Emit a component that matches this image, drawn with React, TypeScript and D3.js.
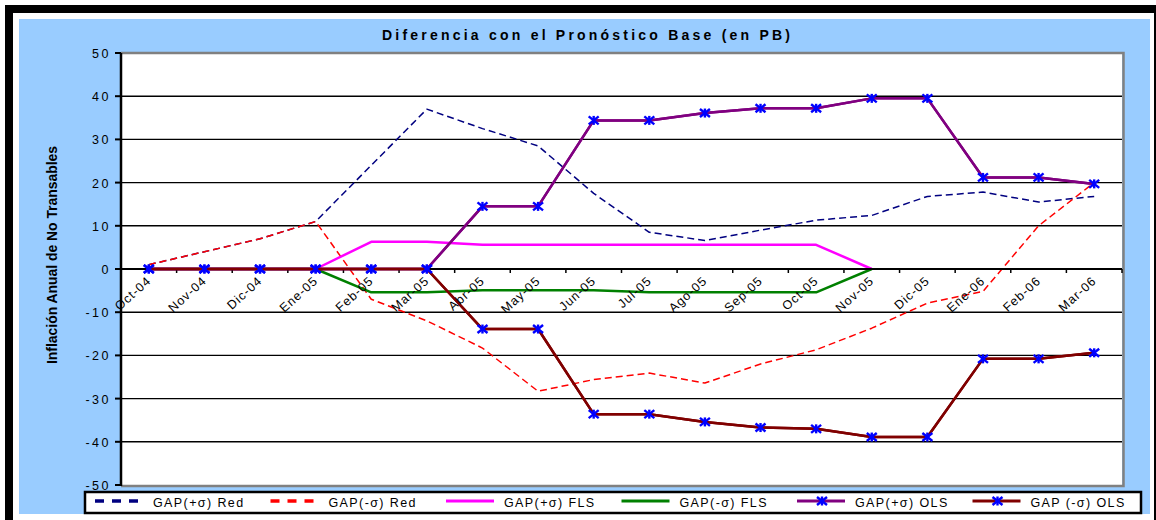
import { useEffect } from "react";
import * as d3 from "d3";

// Categories (months) and series
const months = [
  "Oct-04", "Nov-04", "Dic-04", "Ene-05", "Feb-05", "Mar-05", "Abr-05", "May-05", "Jun-05",
  "Jul-05", "Ago-05", "Sep-05", "Oct-05", "Nov-05", "Dic-05", "Ene-06", "Feb-06", "Mar-06",
];

const gapPlusRed = [1, 4, 7, 11, 24, 37, 32.5, 28.5, 17.5, 8.5, 6.6, 9, 11.3, 12.4, 16.8, 17.8, 15.5, 16.8];
const gapMinusRed = [1, 4, 7, 11, -7, -12, -18.3, -28.3, -25.6, -24.1, -26.4, -22, -18.7, -13.7, -7.9, -5.2, 10, 20];
const gapPlusFLS = [0, 0, 0, 0, 6.3, 6.3, 5.6, 5.6, 5.6, 5.6, 5.6, 5.6, 5.6, 0, null, null, null, null];
const gapMinusFLS = [0, 0, 0, 0, -5.4, -5.4, -4.9, -4.9, -4.9, -5.4, -5.4, -5.4, -5.4, 0, null, null, null, null];
const gapPlusOLS = [0, 0, 0, 0, 0, 0, 14.5, 14.5, 34.4, 34.4, 36.1, 37.2, 37.2, 39.5, 39.5, 21.2, 21.2, 19.7];
const gapMinusOLS = [0, 0, 0, 0, 0, 0, -13.9, -13.9, -33.6, -33.6, -35.4, -36.7, -37, -38.9, -38.9, -20.8, -20.8, -19.4];

const yTicks = [50, 40, 30, 20, 10, 0, -10, -20, -30, -40, -50];

const series = [
  { name: "GAP(+σ) Red", values: gapPlusRed, color: "#000080", width: 1.5, dash: "7,4", marker: false },
  { name: "GAP(-σ) Red", values: gapMinusRed, color: "#FF0000", width: 1.5, dash: "7,4", marker: false },
  { name: "GAP(+σ) FLS", values: gapPlusFLS, color: "#FF00FF", width: 2.5, dash: null, marker: false },
  { name: "GAP(-σ) FLS", values: gapMinusFLS, color: "#008000", width: 2.5, dash: null, marker: false },
  { name: "GAP(+σ) OLS", values: gapPlusOLS, color: "#800080", width: 2.5, dash: null, marker: true },
  { name: "GAP (-σ) OLS", values: gapMinusOLS, color: "#800000", width: 2.5, dash: null, marker: true },
];

const W = 1156;
const H = 520;
const plot = { left: 121, right: 1122, top: 53, bottom: 485 };
const font = "'Liberation Sans', Arial, sans-serif";

// asterisk marker like Excel's "star"
const Star = ({ cx, cy }: { cx: number; cy: number }) => (
  <g stroke="#0000FF" strokeWidth={2.4}>
    <line x1={cx - 5} y1={cy - 4} x2={cx + 5} y2={cy + 4} />
    <line x1={cx - 5} y1={cy + 4} x2={cx + 5} y2={cy - 4} />
    <line x1={cx} y1={cy - 4.5} x2={cx} y2={cy + 4.5} />
  </g>
);

export default function App() {
  useEffect(() => {
    document.body.style.margin = "0";
  }, []);

  const x = d3.scaleBand<string>().domain(months).range([plot.left, plot.right]);
  const y = d3.scaleLinear().domain([-50, 50]).range([plot.bottom, plot.top]);
  const cx = (m: string) => (x(m) ?? 0) + x.bandwidth() / 2;

  const line = d3
    .line<number | null>()
    .defined((d) => d != null)
    .x((_, i) => cx(months[i]))
    .y((d) => y(d as number));

  const y0 = y(0);
  const legendStep = 175.5;

  return (
    <svg width={W} height={H} style={{ display: "block" }} fontFamily={font}>
      {/* frame */}
      <rect x={5} y={5} width={W - 5} height={H - 5} fill="#000" />
      <rect x={13} y={13} width={1141} height={H - 13} fill="#fff" />
      <rect x={19} y={19} width={1131} height={495} fill="#99CCFF" />

      {/* title */}
      <text x={586} y={40} textAnchor="middle" fontSize={14} fontWeight="bold" textLength={408} lengthAdjust="spacing">
        Diferencia con el Pronóstico Base (en PB)
      </text>

      {/* plot area */}
      <rect x={plot.left} y={plot.top} width={plot.right - plot.left} height={plot.bottom - plot.top} fill="#fff" />
      <path
        d={`M${plot.left},${plot.top}H${plot.right + 1.5}V${plot.bottom + 1}H${plot.left}`}
        fill="none"
        stroke="#808080"
        strokeWidth={2.5}
      />

      {/* gridlines */}
      {yTicks
        .filter((t) => t !== 50 && t !== -50 && t !== 0)
        .map((t) => (
          <line key={t} x1={plot.left} x2={plot.right} y1={y(t)} y2={y(t)} stroke="#000" strokeWidth={1.4} />
        ))}

      {/* y axis */}
      <line x1={plot.left} x2={plot.left} y1={plot.top} y2={plot.bottom + 1} stroke="#000" strokeWidth={2.5} />
      {yTicks.map((t) => (
        <g key={t}>
          <line x1={plot.left - 6} x2={plot.left} y1={y(t)} y2={y(t)} stroke="#000" strokeWidth={2} />
          <text x={111} y={y(t) + 5} textAnchor="end" fontSize={12.5} letterSpacing={2.5} fill="#000">
            {t}
          </text>
        </g>
      ))}

      {/* y axis title */}
      <text
        transform={`translate(57,255) rotate(-90)`}
        textAnchor="middle"
        fontFamily="'Liberation Sans Narrow', 'Arial Narrow', sans-serif"
        fontWeight="bold"
        fontSize={15}
        textLength={218}
        lengthAdjust="spacingAndGlyphs"
      >
        Inflación Anual de No Transables
      </text>

      {/* series */}
      {series.map((s) => (
        <path
          key={s.name}
          d={line(s.values) ?? ""}
          fill="none"
          stroke={s.color}
          strokeWidth={s.width}
          strokeDasharray={s.dash ?? undefined}
          strokeLinejoin="round"
        />
      ))}

      {/* x axis on zero */}
      <line x1={plot.left} x2={plot.right} y1={y0} y2={y0} stroke="#000" strokeWidth={2.2} />
      {d3.range(months.length + 1).map((i) => {
        const xx = plot.left + i * x.step();
        return <line key={i} x1={xx} x2={xx} y1={y0} y2={y0 + 4} stroke="#000" strokeWidth={1.5} />;
      })}

      {/* redraw OLS lines over the axis where they sit on zero */}
      {series
        .filter((s) => s.marker)
        .map((s) => (
          <g key={s.name}>
            <path d={line(s.values) ?? ""} fill="none" stroke={s.color} strokeWidth={s.width} strokeLinejoin="round" />
            {s.values.map((v, i) => (v == null ? null : <Star key={i} cx={cx(months[i])} cy={y(v)} />))}
          </g>
        ))}

      {/* x tick labels */}
      {months.map((m) => (
        <text
          key={m}
          transform={`translate(${cx(m) + 3},${y0 + 13}) rotate(-42)`}
          textAnchor="end"
          fontSize={12.5}
          letterSpacing={1}
          fill="#000"
        >
          {m}
        </text>
      ))}

      {/* legend */}
      <rect x={85} y={492} width={1056} height={21} fill="#fff" stroke="#000" strokeWidth={2.5} />
      {series.map((s, i) => {
        const lx = 95 + i * legendStep;
        const ly = 501;
        return (
          <g key={s.name}>
            <line
              x1={lx}
              x2={lx + 48}
              y1={ly}
              y2={ly}
              stroke={s.color}
              strokeWidth={s.dash ? 3.5 : 3}
              strokeDasharray={s.dash ? "9,8" : undefined}
            />
            {s.marker && <Star cx={lx + 25} cy={ly} />}
            <text x={lx + 58} y={ly + 6} fontSize={12.5} letterSpacing={1.4} fill="#000">
              {s.name}
            </text>
          </g>
        );
      })}
    </svg>
  );
}
